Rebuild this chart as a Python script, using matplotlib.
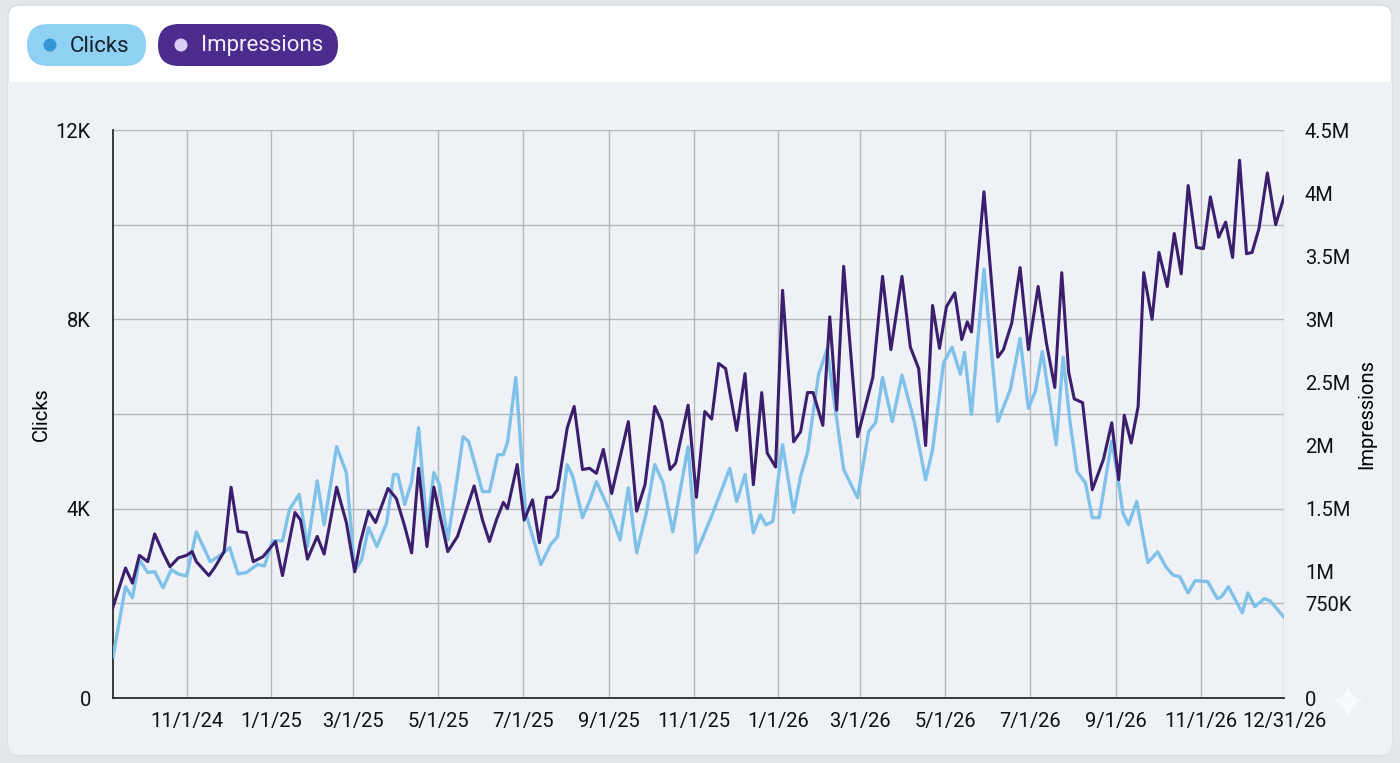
import matplotlib
matplotlib.use("Agg")
import matplotlib.pyplot as plt
from matplotlib.patches import FancyBboxPatch, Rectangle, Circle
from matplotlib.ticker import FixedLocator, FixedFormatter
import pandas as pd

plt.rcParams['font.family'] = ['Roboto', 'DejaVu Sans']

# data, days counted from 2024-09-09
start = pd.Timestamp('2024-09-09')
end = pd.Timestamp('2026-12-31')

clicks_day = [0, 9, 14, 19, 25, 30, 36, 42, 47, 53,
              60, 70, 78, 84, 90, 96, 104, 109, 115, 122,
              127, 134, 140, 147, 152, 161, 168, 174, 179, 184,
              190, 197, 202, 205, 210, 215, 220, 226, 231, 235,
              241, 248, 252, 256, 266, 271, 277, 281, 284, 290,
              297, 308, 315, 320, 327, 331, 338, 343, 348, 358,
              365, 371, 377, 384, 390, 396, 403, 414, 420, 426,
              432, 444, 449, 455, 461, 466, 470, 475, 482, 490,
              495, 500, 508, 514, 526, 536, 544, 549, 554, 561,
              568, 577, 585, 590, 598, 604, 610, 613, 618, 627,
              637, 646, 653, 659, 664, 669, 679, 684, 689, 694,
              700, 705, 710, 719, 723, 727, 731, 737, 745, 752,
              758, 763, 768, 774, 779, 788, 795, 798, 803, 813,
              817, 822, 829, 833, 843]
clicks = [870, 2350, 2120, 2920, 2650, 2670, 2330, 2710, 2620, 2580,
          3510, 2880, 3030, 3180, 2620, 2650, 2820, 2790, 3320, 3320,
          3980, 4300, 3200, 4590, 3660, 5310, 4760, 2690, 2920, 3600,
          3200, 3700, 4720, 4720, 4090, 4570, 5710, 3560, 4760, 4510,
          3340, 4680, 5520, 5420, 4360, 4360, 5140, 5140, 5400, 6770,
          3920, 2820, 3240, 3410, 4930, 4680, 3810, 4150, 4570, 3920,
          3340, 4440, 3070, 3920, 4930, 4550, 3510, 5310, 3070, 3490,
          3920, 4850, 4150, 4720, 3490, 3870, 3660, 3730, 5350, 3920,
          4680, 5190, 6840, 7370, 4830, 4230, 5630, 5820, 6770, 5840,
          6820, 5820, 4610, 5250, 7090, 7410, 6840, 7300, 5990, 9060,
          5840, 6520, 7600, 6120, 6480, 7320, 5350, 7200, 5820, 4780,
          4550, 3810, 3810, 5430, 4750, 3920, 3660, 4150, 2860, 3090,
          2770, 2600, 2560, 2220, 2480, 2460, 2100, 2140, 2350, 1800,
          2220, 1930, 2100, 2050, 1710]

impr_day = [0, 9, 14, 19, 25, 30, 36, 41, 47, 53,
            57, 60, 69, 73, 80, 85, 90, 96, 101, 108,
            117, 122, 131, 135, 140, 147, 152, 161, 168, 174,
            178, 184, 189, 198, 204, 210, 215, 220, 226, 231,
            241, 248, 260, 266, 271, 276, 281, 284, 291, 296,
            302, 307, 312, 316, 320, 327, 332, 338, 343, 348,
            353, 359, 371, 377, 383, 390, 395, 401, 405, 414,
            420, 426, 431, 436, 441, 449, 455, 461, 467, 471,
            477, 482, 490, 495, 500, 504, 511, 516, 521, 526,
            536, 547, 554, 560, 568, 574, 580, 585, 590, 595,
            600, 606, 611, 615, 618, 627, 637, 641, 647, 653,
            659, 666, 672, 678, 683, 688, 692, 698, 705, 713,
            719, 724, 728, 733, 738, 742, 748, 753, 759, 764,
            769, 774, 780, 785, 790, 796, 801, 806, 811, 816,
            820, 825, 831, 837, 843]
# impressions in millions
impressions = [0.72, 1.03, 0.91, 1.13, 1.08, 1.30, 1.15, 1.04, 1.11, 1.13,
               1.16, 1.08, 0.97, 1.03, 1.16, 1.67, 1.32, 1.31, 1.08, 1.12,
               1.24, 0.97, 1.47, 1.41, 1.10, 1.28, 1.14, 1.67, 1.39, 1.00,
               1.23, 1.48, 1.39, 1.66, 1.58, 1.36, 1.15, 1.82, 1.20, 1.67,
               1.16, 1.28, 1.68, 1.41, 1.24, 1.41, 1.55, 1.50, 1.85, 1.41,
               1.57, 1.23, 1.59, 1.59, 1.65, 2.14, 2.31, 1.81, 1.82, 1.78,
               1.97, 1.62, 2.19, 1.48, 1.69, 2.31, 2.19, 1.81, 1.86, 2.32,
               1.59, 2.27, 2.21, 2.65, 2.61, 2.12, 2.57, 1.69, 2.42, 1.94,
               1.83, 3.23, 2.03, 2.11, 2.42, 2.42, 2.16, 3.02, 2.28, 3.42,
               2.07, 2.54, 3.34, 2.76, 3.34, 2.78, 2.61, 2.00, 3.11, 2.77,
               3.10, 3.21, 2.84, 2.98, 2.90, 4.01, 2.70, 2.76, 2.97, 3.41,
               2.76, 3.26, 2.81, 2.46, 3.37, 2.58, 2.37, 2.34, 1.65, 1.89,
               2.18, 1.73, 2.24, 2.02, 2.31, 3.37, 3.00, 3.53, 3.26, 3.68,
               3.36, 4.06, 3.57, 3.56, 3.97, 3.65, 3.77, 3.49, 4.26, 3.52,
               3.53, 3.72, 4.16, 3.75, 3.97]

tick_dates = ['2024-11-01', '2025-01-01', '2025-03-01', '2025-05-01', '2025-07-01',
              '2025-09-01', '2025-11-01', '2026-01-01', '2026-03-01', '2026-05-01',
              '2026-07-01', '2026-09-01', '2026-11-01', '2026-12-31']
tick_labels = ['11/1/24', '1/1/25', '3/1/25', '5/1/25', '7/1/25', '9/1/25', '11/1/25',
               '1/1/26', '3/1/26', '5/1/26', '7/1/26', '9/1/26', '11/1/26', '12/31/26']

left_ticks = [0, 4000, 8000, 12000]
left_labels = ['0', '4K', '8K', '12K']
right_ticks = [0, 0.75, 1, 1.5, 2, 2.5, 3, 3.5, 4, 4.5]
right_labels = ['0', '750K', '1M', '1.5M', '2M', '2.5M', '3M', '3.5M', '4M', '4.5M']

c_clicks = '#7fc1e9'
c_impr = '#3b1f6d'
grid_c = '#b4b8bd'

fig = plt.figure(figsize=(14, 7.63), dpi=100, facecolor='#e4e7ea')

# background card drawn in pixel units
bg = fig.add_axes([0, 0, 1, 1], zorder=0)
bg.set_xlim(0, 1400)
bg.set_ylim(763, 0)
bg.axis('off')
bg.add_patch(FancyBboxPatch((8, 5), 1384, 750, boxstyle='round,pad=0,rounding_size=12',
                            fc='white', ec='#d8dce0', lw=1))
bg.add_patch(FancyBboxPatch((8, 82), 1384, 673, boxstyle='round,pad=0,rounding_size=12',
                            fc='#eef1f5', ec='none'))
bg.add_patch(Rectangle((8, 82), 1384, 30, fc='#eef1f5', ec='none'))

# legend chips
bg.add_patch(FancyBboxPatch((27, 24), 119, 42, boxstyle='round,pad=0,rounding_size=21',
                            fc='#8fd0f3', ec='none'))
bg.add_patch(Circle((50, 45), 6.5, fc='#3597d6', ec='none'))
bg.text(70, 46, 'Clicks', fontsize=16, color='#15202b', va='center', ha='left')
bg.add_patch(FancyBboxPatch((158, 24), 180, 42, boxstyle='round,pad=0,rounding_size=21',
                            fc='#4b2b8b', ec='none'))
bg.add_patch(Circle((181, 45), 6.5, fc='#dccdf7', ec='none'))
bg.text(201, 46, 'Impressions', fontsize=16, color='#f2edfd', va='center', ha='left')
bg.text(1347, 706, '\u2726', fontsize=34, color='white', alpha=0.7, ha='center', va='center',
        family=['DejaVu Sans'])

ax = fig.add_axes([113 / 1400, 65 / 763, 1171 / 1400, 568 / 763], zorder=1)
ax.patch.set_alpha(0)
ax2 = ax.twinx()

xc = start + pd.to_timedelta(clicks_day, unit='D')
xi = start + pd.to_timedelta(impr_day, unit='D')
ax.plot(xc, clicks, color=c_clicks, lw=2.4, zorder=3)
ax2.plot(xi, [v * 1e6 for v in impressions], color=c_impr, lw=2.2, zorder=3)

ax.set_xlim(start, end)
ax.set_ylim(0, 12000)
ax2.set_ylim(0, 4.5e6)

ax.xaxis.set_major_locator(FixedLocator(
    [matplotlib.dates.date2num(pd.Timestamp(d)) for d in tick_dates]))
ax.xaxis.set_major_formatter(FixedFormatter(tick_labels))
ax.set_yticks(left_ticks)
ax.set_yticklabels(left_labels)
ax.set_yticks([2000, 6000, 10000], minor=True)
ax2.set_yticks([v * 1e6 for v in right_ticks])
ax2.set_yticklabels(right_labels)

ax.grid(True, which='both', color=grid_c, lw=1)
ax.set_axisbelow(True)
ax.tick_params(axis='both', which='both', length=0, labelsize=14.5, colors='#111111')
ax.tick_params(axis='y', pad=16)
ax.tick_params(axis='x', pad=10)
ax2.tick_params(axis='y', length=0, labelsize=14.5, colors='#111111', pad=15)

ax.set_ylabel('Clicks', fontsize=14.5, labelpad=3)
ax2.set_ylabel('Impressions', fontsize=14.5, labelpad=4)

for a in (ax, ax2):
    a.spines['top'].set_visible(False)
    a.spines['right'].set_visible(False)
ax2.spines['left'].set_visible(False)
ax2.spines['bottom'].set_visible(False)
ax.spines['left'].set_color('#2a2a2a')
ax.spines['bottom'].set_color('#2a2a2a')
ax.spines['left'].set_linewidth(1.3)
ax.spines['bottom'].set_linewidth(1.3)

fig.savefig('out.png', dpi=100, facecolor=fig.get_facecolor())
